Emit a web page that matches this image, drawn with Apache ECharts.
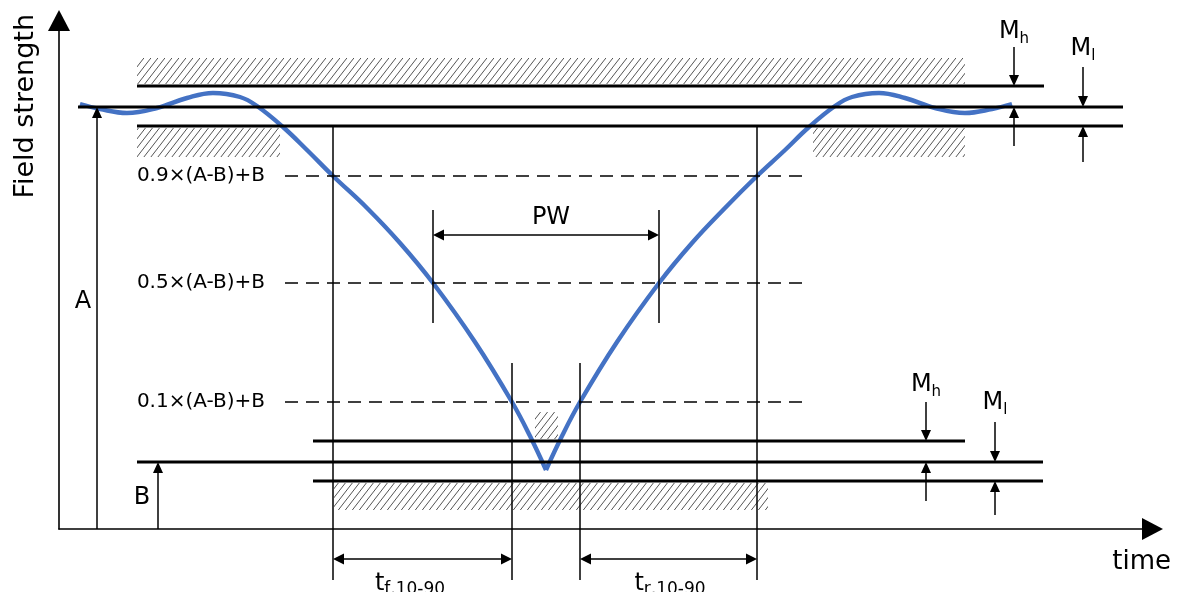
<!DOCTYPE html>
<html>
<head>
<meta charset="utf-8">
<script src="https://cdn.jsdelivr.net/npm/echarts@6/dist/echarts.min.js"></script>
<style>
  html, body { margin: 0; padding: 0; background: #ffffff; }
  #chart { width: 1180px; height: 592px; }
</style>
</head>
<body>
<div id="chart"></div>
<script>
const FONT = '"DejaVu Sans", Verdana, sans-serif';

// Pulse waveform [time, field strength]: falling edge down to the minimum, then rising edge
const fallingEdge = [
  [21, 425], [41, 420], [68, 416], [98, 421], [128, 431], [154, 436], [181, 432],
  [198, 423], [224, 402], [249, 378], [274, 353], [308, 321], [341, 286], [374, 246],
  [416, 187], [453, 127], [471, 93], [487, 59]
];
const risingEdge = [
  [487, 59], [503, 93], [521, 127], [558, 187], [600, 246], [633, 286], [666, 321],
  [698, 353], [725, 378], [750, 402], [776, 423], [793, 432], [820, 436], [846, 431],
  [876, 421], [906, 416], [933, 420], [953, 425]
];

// Nominal levels A and B with their tolerance bands: [timeStart, timeEnd, level]
const levelLines = [
  [78, 985, 443], [19, 1064, 422], [78, 1064, 403],
  [254, 906, 88], [78, 984, 67], [254, 984, 48]
];

// Forbidden zones: [timeStart, timeEnd, levelLow, levelHigh]
const hatchZones = [
  [78, 906, 445, 471], [78, 221, 372, 401], [754, 906, 372, 401],
  [275, 709, 19, 46], [476, 499, 90, 117]
];

// Reference thresholds between A and B
const refLevels = [353, 246, 127];
const refLabels = ['0.9×(A-B)+B', '0.5×(A-B)+B', '0.1×(A-B)+B'];
const refSpan = [226, 749];

// Time markers: [time, levelLow, levelHigh]
const timeMarkers = [
  [274, -51, 403], [698, -51, 403], [453, -51, 166], [521, -51, 166],
  [374, 206, 319], [600, 206, 319]
];

// Measured intervals (double arrows): [timeStart, timeEnd, level]
const intervals = [[374, 600, 294], [274, 453, -30], [521, 698, -30]];

// Level arrows: [time, levelFrom, levelTo]
const levelArrows = [
  [38, 0, 422], [99, 0, 67],
  [955, 482, 443], [955, 383, 422], [1024, 462, 422], [1024, 367, 403],
  [867, 127, 88], [867, 28, 67], [936, 107, 67], [936, 14, 48]
];

// Annotations: [time, level, text]
const notes = [
  [24, 227, 'A'], [83, 31, 'B'], [492, 311, 'PW'],
  [955, 496, '{m|M}{s|h}'], [1024, 479, '{m|M}{s|l}'],
  [867, 143, '{m|M}{s|h}'], [936, 125, '{m|M}{s|l}'],
  [351, -56, '{m|t}{q|f,10-90}'], [611, -56, '{m|t}{q|r,10-90}']
];

// Diagonal hatch tile
function hatchTile() {
  const w = 7, h = 9;
  const c = document.createElement('canvas');
  c.width = w; c.height = h;
  const g = c.getContext('2d');
  g.strokeStyle = '#555';
  g.lineWidth = 1;
  for (let k = -1; k <= 1; k++) {
    g.beginPath();
    g.moveTo(k * w, h);
    g.lineTo(k * w + w, 0);
    g.stroke();
  }
  return c;
}
const hatchFill = { image: hatchTile(), repeat: 'repeat' };

function arrowHead(tip, from, len, half) {
  const dx = tip[0] - from[0], dy = tip[1] - from[1];
  const d = Math.sqrt(dx * dx + dy * dy) || 1;
  const ux = dx / d, uy = dy / d;
  const bx = tip[0] - ux * len, by = tip[1] - uy * len;
  return {
    type: 'polygon',
    shape: { points: [tip, [bx - uy * half, by + ux * half], [bx + uy * half, by - ux * half]] },
    style: { fill: '#000' }
  };
}

const chart = echarts.init(document.getElementById('chart'), null, { renderer: 'canvas' });

const option = {
  animation: false,
  backgroundColor: '#ffffff',
  grid: { left: 59, right: 38, top: 31, bottom: 63, outerBoundsMode: 'none', containLabel: false },
  xAxis: {
    type: 'value', min: 0, max: 1083,
    name: 'time', nameLocation: 'end', nameGap: 29,
    nameTextStyle: { fontFamily: FONT, fontSize: 26, color: '#000', align: 'right', verticalAlign: 'top', padding: [20, 0, 0, 0] },
    axisLine: { show: true, onZero: false, symbol: ['none', 'triangle'], symbolSize: [22, 21], symbolOffset: [0, 10.5], lineStyle: { color: '#000', width: 1.6 } },
    axisTick: { show: false }, axisLabel: { show: false }, splitLine: { show: false }
  },
  yAxis: {
    type: 'value', min: 0, max: 498,
    name: 'Field strength', nameLocation: 'end', nameGap: 17, nameRotate: 90,
    nameTextStyle: { fontFamily: FONT, fontSize: 27, color: '#000', align: 'right', verticalAlign: 'bottom', padding: [0, 0, 20, 0] },
    axisLine: { show: true, onZero: false, symbol: ['none', 'triangle'], symbolSize: [22, 21], symbolOffset: [0, 10.5], lineStyle: { color: '#000', width: 1.6 } },
    axisTick: { show: false }, axisLabel: { show: false }, splitLine: { show: false }
  },
  series: [
    {
      name: 'zones', type: 'custom', z: 1, clip: false,
      data: hatchZones,
      renderItem: function (params, api) {
        const p1 = api.coord([api.value(0), api.value(3)]);
        const p2 = api.coord([api.value(1), api.value(2)]);
        return { type: 'rect', shape: { x: p1[0], y: p1[1], width: p2[0] - p1[0], height: p2[1] - p1[1] }, style: { fill: hatchFill } };
      }
    },
    {
      name: 'falling edge', type: 'line', z: 2, data: fallingEdge, smooth: 0.4,
      showSymbol: false, lineStyle: { color: '#4472C4', width: 4.4, cap: 'butt' }
    },
    {
      name: 'rising edge', type: 'line', z: 2, data: risingEdge, smooth: 0.4,
      showSymbol: false, lineStyle: { color: '#4472C4', width: 4.4, cap: 'butt' }
    },
    {
      name: 'levels', type: 'custom', z: 5, clip: false,
      data: levelLines,
      renderItem: function (params, api) {
        const p1 = api.coord([api.value(0), api.value(2)]);
        const p2 = api.coord([api.value(1), api.value(2)]);
        return { type: 'line', shape: { x1: p1[0], y1: p1[1], x2: p2[0], y2: p2[1] }, style: { stroke: '#000', lineWidth: 3 } };
      }
    },
    {
      name: 'thresholds', type: 'custom', z: 4, clip: false,
      data: refLevels,
      renderItem: function (params, api) {
        const y = api.value(0);
        const p1 = api.coord([refSpan[0], y]);
        const p2 = api.coord([refSpan[1], y]);
        const lp = api.coord([206, y]);
        return {
          type: 'group',
          children: [
            { type: 'line', shape: { x1: p1[0], y1: p1[1], x2: p2[0], y2: p2[1] }, style: { stroke: '#000', lineWidth: 1.5, lineDash: [13, 8] } },
            { type: 'text', x: lp[0], y: lp[1], style: { text: refLabels[params.dataIndex], fontFamily: FONT, fontSize: 20, fill: '#000', align: 'right', verticalAlign: 'middle' } }
          ]
        };
      }
    },
    {
      name: 'markers', type: 'custom', z: 4, clip: false,
      data: timeMarkers,
      renderItem: function (params, api) {
        const p1 = api.coord([api.value(0), api.value(1)]);
        const p2 = api.coord([api.value(0), api.value(2)]);
        return { type: 'line', shape: { x1: p1[0], y1: p1[1], x2: p2[0], y2: p2[1] }, style: { stroke: '#000', lineWidth: 1.5 } };
      }
    },
    {
      name: 'intervals', type: 'custom', z: 4, clip: false,
      data: intervals,
      renderItem: function (params, api) {
        const p1 = api.coord([api.value(0), api.value(2)]);
        const p2 = api.coord([api.value(1), api.value(2)]);
        return {
          type: 'group',
          children: [
            { type: 'line', shape: { x1: p1[0] + 8, y1: p1[1], x2: p2[0] - 8, y2: p2[1] }, style: { stroke: '#000', lineWidth: 1.5 } },
            arrowHead(p1, p2, 11, 5.5),
            arrowHead(p2, p1, 11, 5.5)
          ]
        };
      }
    },
    {
      name: 'level arrows', type: 'custom', z: 4, clip: false,
      data: levelArrows,
      renderItem: function (params, api) {
        const p1 = api.coord([api.value(0), api.value(1)]);
        const p2 = api.coord([api.value(0), api.value(2)]);
        const dir = p2[1] > p1[1] ? 1 : -1;
        return {
          type: 'group',
          children: [
            { type: 'line', shape: { x1: p1[0], y1: p1[1], x2: p2[0], y2: p2[1] - dir * 8 }, style: { stroke: '#000', lineWidth: 1.5 } },
            arrowHead(p2, p1, 11, 5)
          ]
        };
      }
    },
    {
      name: 'notes', type: 'custom', z: 6, clip: false,
      data: notes.map(function (n) { return [n[0], n[1]]; }),
      renderItem: function (params, api) {
        const p = api.coord([api.value(0), api.value(1)]);
        return {
          type: 'text', x: p[0], y: p[1],
          style: {
            text: notes[params.dataIndex][2],
            fontFamily: FONT, fontSize: 24, fill: '#000',
            align: 'center', verticalAlign: 'middle',
            rich: {
              m: { fontFamily: FONT, fontSize: 24, fill: '#000', verticalAlign: 'bottom', padding: [0, 0, 3, 0] },
              s: { fontFamily: FONT, fontSize: 15, fill: '#000', verticalAlign: 'bottom' },
              q: { fontFamily: FONT, fontSize: 17, fill: '#000', verticalAlign: 'bottom' }
            }
          }
        };
      }
    }
  ]
};

chart.setOption(option);
</script>
</body>
</html>
